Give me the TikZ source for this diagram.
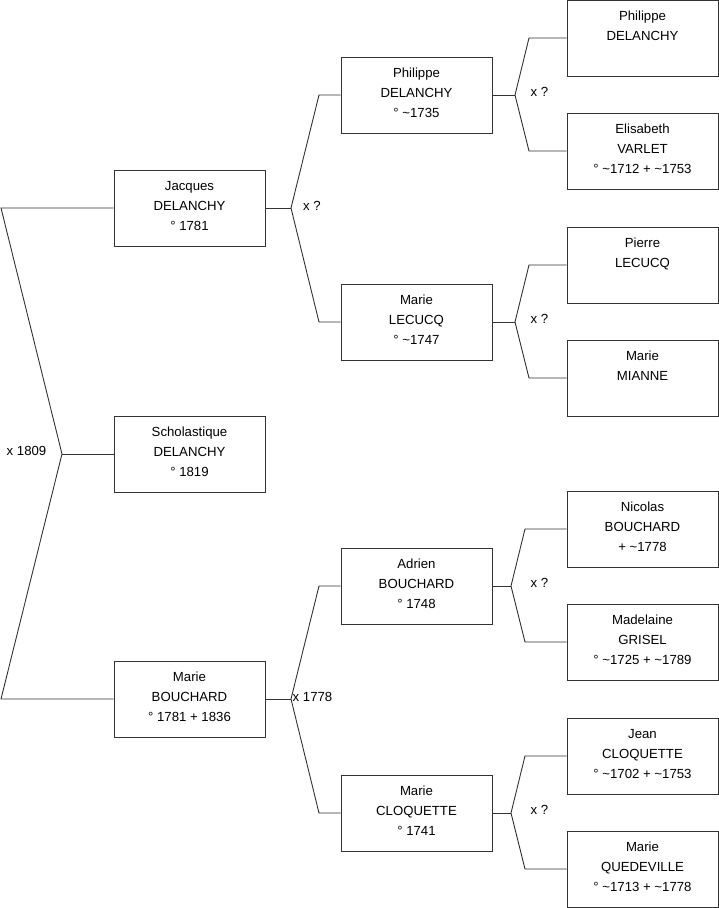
\documentclass[tikz,border=0pt]{standalone}
\usepackage{fontspec}
\setmainfont{Liberation Sans}
\newcommand{\boxtail}{\rule[-4pt]{0pt}{4pt}}
\begin{document}
\begin{tikzpicture}[x=1pt,y=-1pt,
  person/.style={draw=black!80, line width=0.9pt, minimum width=151pt, minimum height=76pt,
    inner sep=0pt, align=center, font=\fontsize{13.2}{20}\selectfont, text=black},
  link/.style={draw=black!80, line width=0.9pt},
  lab/.style={font=\fontsize{13.2}{15}\selectfont, inner sep=0pt, text=black}]
\useasboundingbox (0,0) rectangle (719,908);
% column 1
\node[person] (j)  at (189.5,208) {Jacques\\DELANCHY\\° 1781\boxtail};
\node[person] (s)  at (189.5,454) {Scholastique\\DELANCHY\\° 1819\boxtail};
\node[person] (mb) at (189.5,699) {Marie\\BOUCHARD\\° 1781 + 1836\boxtail};
% column 2
\node[person] (p2) at (416.5,95)  {Philippe\\DELANCHY\\° \textasciitilde 1735\boxtail};
\node[person] (ml) at (416.5,322) {Marie\\LECUCQ\\° \textasciitilde 1747\boxtail};
\node[person] (ad) at (416.5,586) {Adrien\\BOUCHARD\\° 1748\boxtail};
\node[person] (mc) at (416.5,813) {Marie\\CLOQUETTE\\° 1741\boxtail};
% column 3
\node[person] (p3) at (642.5,38)  {Philippe\\DELANCHY\\\boxtail};
\node[person] (ev) at (642.5,151) {Elisabeth\\VARLET\\° \textasciitilde 1712 + \textasciitilde 1753\boxtail};
\node[person] (pl) at (642.5,265) {Pierre\\LECUCQ\\\boxtail};
\node[person] (mm) at (642.5,378) {Marie\\MIANNE\\\boxtail};
\node[person] (nb) at (642.5,529) {Nicolas\\BOUCHARD\\+ \textasciitilde 1778\boxtail};
\node[person] (mg) at (642.5,642) {Madelaine\\GRISEL\\° \textasciitilde 1725 + \textasciitilde 1789\boxtail};
\node[person] (jc) at (642.5,756) {Jean\\CLOQUETTE\\° \textasciitilde 1702 + \textasciitilde 1753\boxtail};
\node[person] (mq) at (642.5,869) {Marie\\QUEDEVILLE\\° \textasciitilde 1713 + \textasciitilde 1778\boxtail};
% forks
\coordinate (f0) at (62,454);
\coordinate (f1) at (291,208);
\coordinate (f2) at (291,699);
\coordinate (f3) at (515,95);
\coordinate (f4) at (515,322);
\coordinate (f5) at (511,586);
\coordinate (f6) at (511,813);
% connectors
\draw[link] (j.west) -- (1,208) -- (f0) -- (1,699) -- (mb.west);
\draw[link] (f0) -- (s.west);
\draw[link] (j.east) -- (f1);
\draw[link] (p2.west) -- (319,95) -- (f1) -- (319,322) -- (ml.west);
\draw[link] (mb.east) -- (f2);
\draw[link] (ad.west) -- (319,586) -- (f2) -- (319,813) -- (mc.west);
\draw[link] (p2.east) -- (f3);
\draw[link] (p3.west) -- (529,38) -- (f3) -- (529,151) -- (ev.west);
\draw[link] (ml.east) -- (f4);
\draw[link] (pl.west) -- (529,265) -- (f4) -- (529,378) -- (mm.west);
\draw[link] (ad.east) -- (f5);
\draw[link] (nb.west) -- (525,529) -- (f5) -- (525,642) -- (mg.west);
\draw[link] (mc.east) -- (f6);
\draw[link] (jc.west) -- (525,756) -- (f6) -- (525,869) -- (mq.west);
% labels
\node[lab] (l0) at (26.5,451) {x 1809};
\node[lab] (l1) at (312,206) {x ?};
\node[lab] (l2) at (312.5,697) {x 1778};
\node[lab] (l3) at (539.5,92) {x ?};
\node[lab] (l4) at (539.5,319) {x ?};
\node[lab] (l5) at (539.5,583) {x ?};
\node[lab] (l6) at (539.5,810) {x ?};
\end{tikzpicture}
\end{document}
